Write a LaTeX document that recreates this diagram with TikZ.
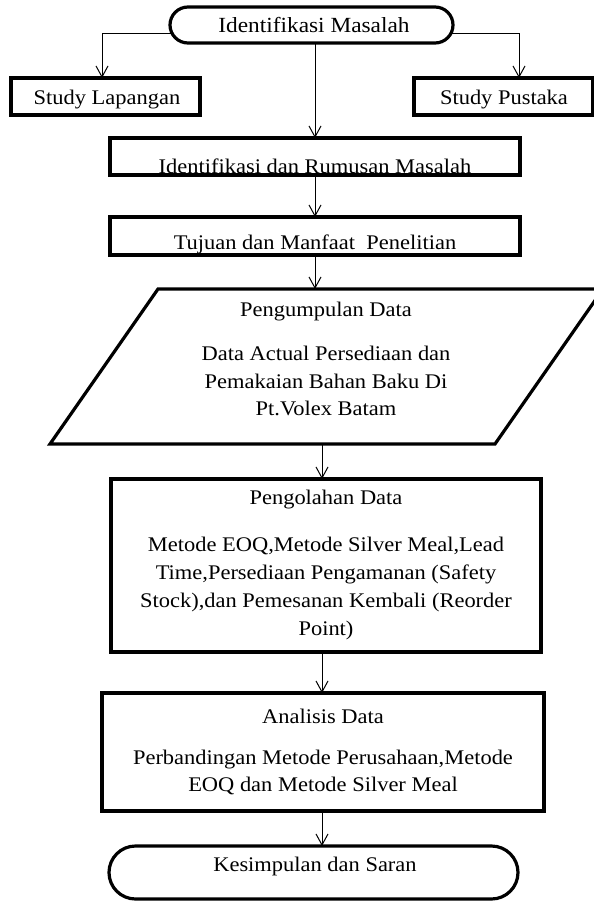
\documentclass[tikz,border=0pt]{standalone}
\usepackage{fontspec}
\setmainfont{Liberation Serif}[FakeStretch=1.08]
\usetikzlibrary{arrows.meta}
\begin{document}
\begin{tikzpicture}[x=1pt,y=-1pt,
  txt/.style={anchor=base,inner sep=0,font=\fontsize{20.8}{28}\selectfont},
  bigtxt/.style={txt,font=\fontsize{21.6}{28}\selectfont},
  boxnode/.style={draw,line width=3.2pt,rectangle,inner sep=0,outer sep=0},
  termnode/.style={draw,line width=3.2pt,rectangle,inner sep=0,outer sep=0},
  conn/.style={line width=1pt,-{Straight Barb[length=11pt,width=12pt]}}]
\useasboundingbox (0,0) rectangle (594,902);
% terminators
\node[termnode,minimum width=283pt,minimum height=36pt,rounded corners=18pt] (top) at (311.5,25) {};
\node[termnode,minimum width=409pt,minimum height=53pt,rounded corners=26.5pt] (ks) at (313.5,872.5) {};
% boxes
\node[boxnode,minimum width=189pt,minimum height=37pt] (sl) at (105.5,96.5) {};
\node[boxnode,minimum width=179pt,minimum height=37pt] (sp) at (503.5,96.5) {};
\node[boxnode,minimum width=410pt,minimum height=37pt] (b2) at (315,156.5) {};
\node[boxnode,minimum width=410pt,minimum height=38pt] (b3) at (315,236) {};
\node[boxnode,minimum width=430pt,minimum height=173pt] (pg) at (326,565.5) {};
\node[boxnode,minimum width=442pt,minimum height=118pt] (an) at (323,752) {};
% parallelogram
\coordinate (paratop) at (314,289);
\coordinate (parabot) at (322,444);
\begin{scope}
\clip (0,0) rectangle (594,902);
\draw[line width=3.2pt,line join=miter] (158,289) -- (603,289) -- (495,444) -- (50,444) -- cycle;
\end{scope}
% texts
\node[bigtxt] (t0) at (314,32) {Identifikasi Masalah};
\node[txt] (t1) at (107,104) {Study Lapangan};
\node[txt] (t2) at (504,104) {Study Pustaka};
\node[txt] (t3) at (315,173) {Identifikasi dan Rumusan Masalah};
\node[txt] (t4) at (315,249) {Tujuan dan Manfaat\ \ Penelitian};
\node[txt] (t5) at (326,316) {Pengumpulan Data};
\node[txt] (t6) at (326,360.5) {Data Actual Persediaan dan};
\node[txt] (t7) at (326,388) {Pemakaian Bahan Baku Di};
\node[txt] (t8) at (326,415.5) {Pt.Volex Batam};
\node[txt] (t9) at (326,504) {Pengolahan Data};
\node[txt] (t10) at (326,551.5) {Metode EOQ,Metode Silver Meal,Lead};
\node[txt] (t11) at (326,579.5) {Time,Persediaan Pengamanan (Safety};
\node[txt] (t12) at (326,607.5) {Stock),dan Pemesanan Kembali (Reorder};
\node[txt] (t13) at (326,635) {Point)};
\node[txt] (t14) at (323,723) {Analisis Data};
\node[txt] (t15) at (323,764) {Perbandingan Metode Perusahaan,Metode};
\node[txt] (t16) at (323,791) {EOQ dan Metode Silver Meal};
\node[txt] (t17) at (315,871) {Kesimpulan dan Saran};
% connectors
\draw[conn] ([xshift=2pt,yshift=-8pt]top.west) -| ([xshift=-3.5pt]sl.north);
\draw[conn] ([xshift=-2pt,yshift=-8pt]top.east) -| ([xshift=15.5pt]sp.north);
\draw[conn] (b2.north |- top.south) -- (b2.north);
\draw[conn] (b2.south) -- (b3.north);
\draw[conn] (b3.south) -- (b3.south |- paratop);
\draw[conn] (parabot) -- (parabot |- pg.north);
\draw[conn] ([xshift=-4pt]pg.south) -- ([xshift=-4pt]pg.south |- an.north);
\draw[conn] ([xshift=-1pt]an.south) -- ([xshift=-1pt]an.south |- ks.north);
\end{tikzpicture}
\end{document}
